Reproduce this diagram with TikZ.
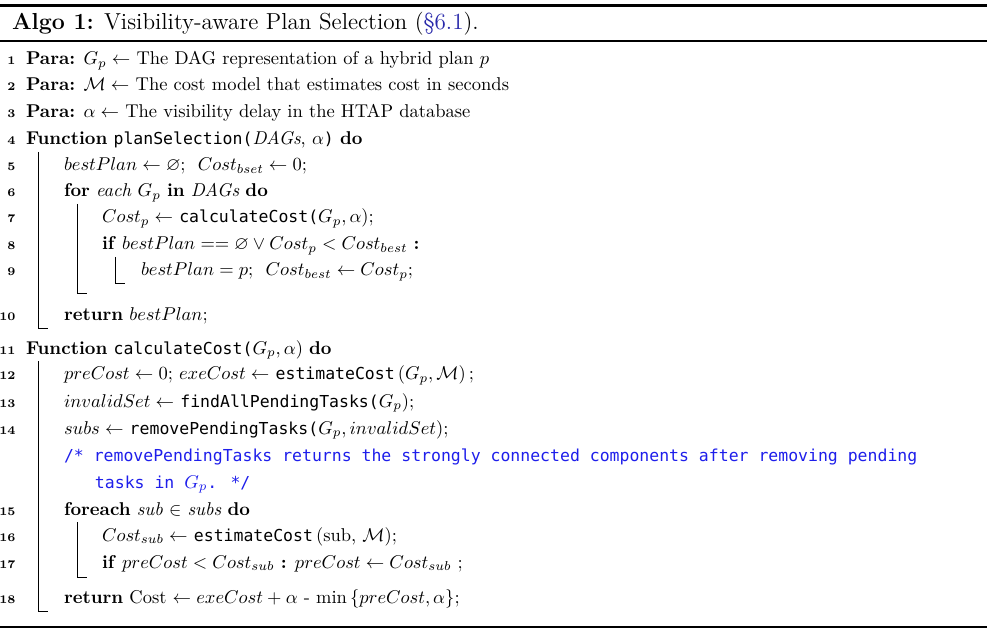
\documentclass[tikz,border=0pt]{standalone}
\usepackage{amssymb}
\usepackage{fontspec}
\newfontfamily\codefnt{DejaVu Sans Mono}[Scale=0.89]
\newcommand{\cf}[1]{{\codefnt #1}}
\definecolor{cmtblue}{RGB}{30,30,235}
\definecolor{lnkblue}{RGB}{40,40,170}
\begin{document}
\begin{tikzpicture}[x=0.54pt,y=-0.54pt,
  txt/.style={anchor=base west,inner sep=0pt,outer sep=0pt,font=\fontsize{10}{12}\selectfont},
  ttl/.style={anchor=base west,inner sep=0pt,outer sep=0pt,font=\fontsize{12.5}{14}\selectfont},
  num/.style={anchor=base east,inner sep=0pt,outer sep=0pt,font=\fontsize{6.3}{7.5}\selectfont\bfseries},
  bar/.style={line width=0.5pt},
  bigrule/.style={line width=1.35pt},
  midrule/.style={line width=1pt}]
\fill[white] (0,0) rectangle (1000,637);
\useasboundingbox (0,0) rectangle (1000,637);
% rules
\draw[bigrule] (0,5.5) -- (987,5.5);
\draw[midrule] (0,41) -- (987,41);
\draw[bigrule] (0,627) -- (987,627);
% title
\node[ttl] (title) at (12,30) {\textbf{Algo 1:} Visibility-aware Plan Selection (\textcolor{lnkblue}{\S6.1}).};
% line numbers
\node[num] (n1) at (15.5,65) {1};
\node[num] (n2) at (15.5,91) {2};
\node[num] (n3) at (15.5,118) {3};
\node[num] (n4) at (15.5,145) {4};
\node[num] (n5) at (15.5,171) {5};
\node[num] (n6) at (15.5,197) {6};
\node[num] (n7) at (15.5,223) {7};
\node[num] (n8) at (15.5,250) {8};
\node[num] (n9) at (15.5,276) {9};
\node[num] (n10) at (15.5,321) {10};
\node[num] (n11) at (15.5,354) {11};
\node[num] (n12) at (15.5,380) {12};
\node[num] (n13) at (15.5,407) {13};
\node[num] (n14) at (15.5,434) {14};
\node[num] (n15) at (15.5,515) {15};
\node[num] (n16) at (15.5,541) {16};
\node[num] (n17) at (15.5,568) {17};
\node[num] (n18) at (15.5,603) {18};
% lines
\node[txt] (l1) at (26,65) {\textbf{Para:} $G_p \leftarrow$ The DAG representation of a hybrid plan $p$};
\node[txt] (l2) at (26,91) {\textbf{Para:} $\mathcal{M} \leftarrow$ The cost model that estimates cost in seconds};
\node[txt] (l3) at (26,118) {\textbf{Para:} $\alpha \leftarrow$ The visibility delay in the HTAP database};
\node[txt] (l4) at (26,145) {\textbf{Function} \cf{planSelection(}\textit{DAGs}, $\alpha$\cf{)} \textbf{do}};
\node[txt] (l5) at (64,171) {$bestPlan \leftarrow \varnothing$;\ \ $Cost_{bset} \leftarrow 0$;};
\node[txt] (l6) at (64,197) {\textbf{for} \textit{each} $G_p$ \textbf{in} \textit{DAGs} \textbf{do}};
\node[txt] (l7) at (102,223) {$Cost_p \leftarrow$ \cf{calculateCost(}$G_p, \alpha$);};
\node[txt] (l8) at (102,250) {\textbf{if} $bestPlan \mathrel{==} \varnothing \vee Cost_p < Cost_{best}$ \textbf{:}};
\node[txt] (l9) at (141,276) {$bestPlan = p$;\ \ $Cost_{best} \leftarrow Cost_p$;};
\node[txt] (l10) at (64,321) {\textbf{return} $bestPlan$;};
\node[txt] (l11) at (26,354) {\textbf{Function} \cf{calculateCost(}$G_p, \alpha$) \textbf{do}};
\node[txt] (l12) at (64,380) {$preCost \leftarrow 0$;\ $exeCost \leftarrow$ \cf{estimateCost}\,$(G_p, \mathcal{M})$\,;};
\node[txt] (l13) at (64,407) {$invalidSet \leftarrow$ \cf{findAllPendingTasks(}$G_p$);};
\node[txt] (l14) at (64,434) {$subs \leftarrow$ \cf{removePendingTasks(}$G_p, invalidSet$);};
\node[txt,text=cmtblue] (c1) at (64,461) {\cf{/* removePendingTasks returns the strongly connected components after removing pending}};
\node[txt,text=cmtblue] (c2) at (95,488) {\cf{tasks in }$G_p$\cf{. */}};
\node[txt] (l15) at (64,515) {\textbf{foreach} \textit{sub} $\in$ \textit{subs} \textbf{do}};
\node[txt] (l16) at (102,541) {$Cost_{sub} \leftarrow$ \cf{estimateCost}\,(sub, $\mathcal{M}$);};
\node[txt] (l17) at (102,568) {\textbf{if} $preCost < Cost_{sub}$ \textbf{:} $preCost \leftarrow Cost_{sub}$\ ;};
\node[txt] (l18) at (64,603) {\textbf{return} Cost $\leftarrow exeCost + \alpha$ - $\min\,\{preCost, \alpha\}$;};
% block bars
\draw[bar] (38.5,152) -- (38.5,328) -- (48,328);
\draw[bar] (77,204) -- (77,293) -- (87,293);
\draw[bar] (115,257) -- (115,283) -- (125,283);
\draw[bar] (38.5,361) -- (38.5,611) -- (48,611);
\draw[bar] (77,522) -- (77,577) -- (87,577);
\end{tikzpicture}
\end{document}
